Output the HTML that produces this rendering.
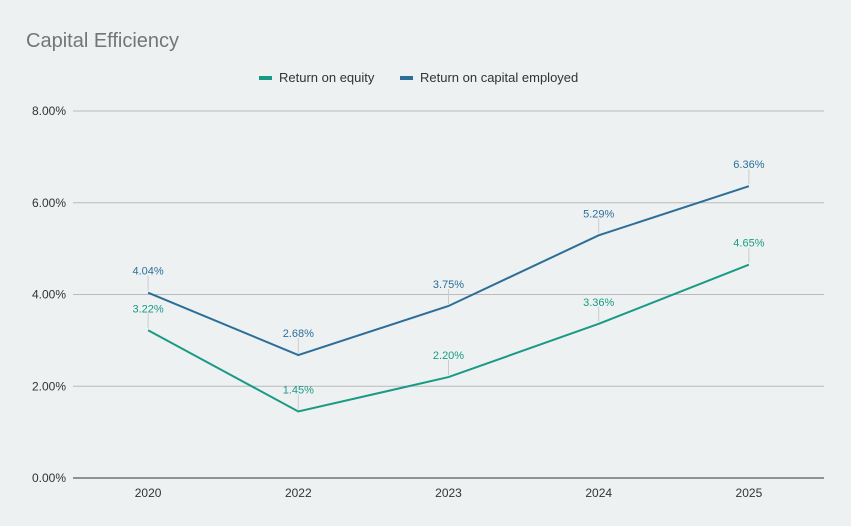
<!DOCTYPE html>
<html><head><meta charset="utf-8"><style>
body{margin:0;background:#edf1f1;font-family:"Liberation Sans",sans-serif;}
svg{display:block}
</style></head><body>
<svg width="851" height="526">
<rect width="851" height="526" fill="#edf1f1"/>
<text x="26" y="47" font-size="20" fill="#757575">Capital Efficiency</text>
<g>
<g><rect x="259" y="76" width="13" height="4" fill="#1a9a85"/><text x="279" y="82" font-size="13" fill="#333">Return on equity</text></g>
<g><rect x="400" y="76" width="13" height="4" fill="#2c6e99"/><text x="420" y="82" font-size="13" fill="#333">Return on capital employed</text></g>
</g>
<g id="grid"></g><g id="series"></g>
</svg>
<script>
const categories=["2020","2022","2023","2024","2025"];
const roe=[3.22,1.45,2.20,3.36,4.65];
const roce=[4.04,2.68,3.75,5.29,6.36];
const yTicks=[0,2,4,6,8];
const ns="http://www.w3.org/2000/svg";
const L=73,R=824,T=111,B=478,maxV=8;
const bw=(R-L)/categories.length;
const x=i=>L+bw*(i+0.5);
const y=v=>B-(v/maxV)*(B-T);
function mk(t,a,p){const e=document.createElementNS(ns,t);for(const k in a)e.setAttribute(k,a[k]);p.appendChild(e);return e;}
const g=document.getElementById('grid');
yTicks.forEach(v=>{
 const l=mk('line',{x1:L,x2:R,y1:y(v),y2:y(v),stroke:v===0?'#333':'#bbb','stroke-width':1},g);
 
 
 const t=mk('text',{x:66,y:y(v)+4,'text-anchor':'end','font-size':12,fill:'#333'},g);
 t.textContent=v.toFixed(2)+'%';
 
 
});
categories.forEach((c,i)=>{
 const t=mk('text',{x:x(i),y:497,'text-anchor':'middle','font-size':12,fill:'#333'},g);
 t.textContent=c;
 
 
});
const s=document.getElementById('series');
function draw(vals,col,name){
 const p=mk('polyline',{points:vals.map((v,i)=>x(i)+','+y(v)).join(' '),fill:'none',stroke:col,'stroke-width':2},s);
 
 
 vals.forEach((v,i)=>{
  const ll=mk('line',{x1:x(i),x2:x(i),y1:y(v)-2,y2:y(v)-17,stroke:'#ccc','stroke-width':1},s);
  
  
  const t=mk('text',{x:x(i),y:y(v)-18,'text-anchor':'middle','font-size':11,fill:col},s);
  t.textContent=v.toFixed(2)+'%';
  
  
 });
}
draw(roe,'#1a9a85','roe');
draw(roce,'#2c6e99','roce');
</script>
</body></html>
